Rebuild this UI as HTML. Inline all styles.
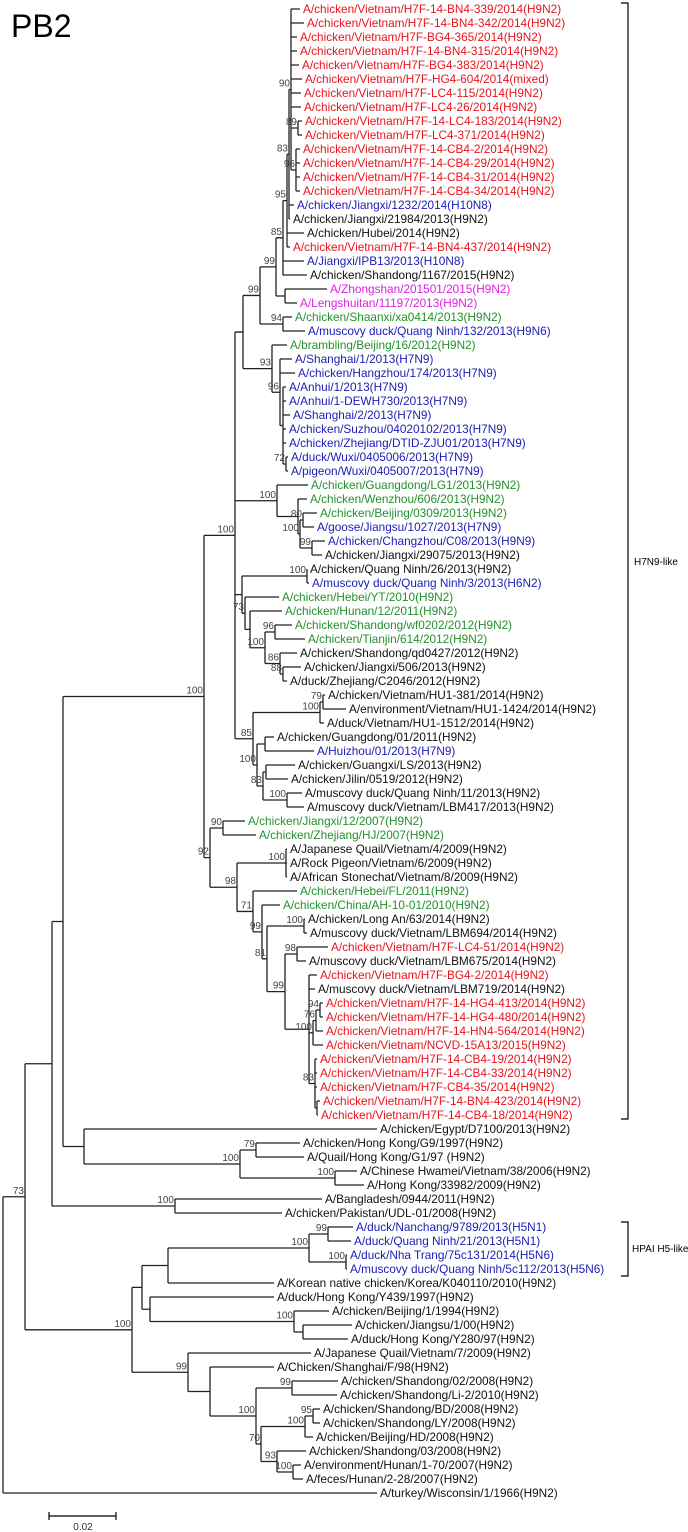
<!DOCTYPE html>
<html><head><meta charset="utf-8"><title>PB2 phylogenetic tree</title>
<style>
html,body{margin:0;padding:0;background:#fff;}
svg{display:block;font-family:"Liberation Sans",Arial,sans-serif;}
</style></head>
<body>
<svg id="tree" width="688" height="1532" viewBox="0 0 688 1532" xmlns="http://www.w3.org/2000/svg">
<text x="11" y="37" font-size="32" fill="#000">PB2</text>
<g id="branches"></g>
<g id="labels"></g>
<g id="boot"></g>
<g>
<path d="M621 3 H628 V1119 H621" fill="none" stroke="#000" stroke-width="1.2"/>
<text x="634" y="565" font-size="10" fill="#000">H7N9-like</text>
</g>
<g>
<path d="M621 1222 H628 V1276 H621" fill="none" stroke="#000" stroke-width="1.2"/>
<text x="632" y="1252" font-size="10" fill="#000">HPAI H5-like</text>
</g>
<g>
<path d="M49 1512 V1520 M49 1516 H116 M116 1512 V1520" stroke="#000" stroke-width="1.2" fill="none"/>
<text x="83" y="1530" font-size="10" text-anchor="middle" fill="#333">0.02</text>
</g>
</svg>
<script>
// Taxon names (top to bottom)
var taxa = [
"A/chicken/Vietnam/H7F-14-BN4-339/2014(H9N2)","A/chicken/Vietnam/H7F-14-BN4-342/2014(H9N2)","A/chicken/Vietnam/H7F-BG4-365/2014(H9N2)","A/chicken/Vietnam/H7F-14-BN4-315/2014(H9N2)","A/chicken/Vietnam/H7F-BG4-383/2014(H9N2)","A/chicken/Vietnam/H7F-HG4-604/2014(mixed)","A/chicken/Vietnam/H7F-LC4-115/2014(H9N2)","A/chicken/Vietnam/H7F-LC4-26/2014(H9N2)","A/chicken/Vietnam/H7F-14-LC4-183/2014(H9N2)","A/chicken/Vietnam/H7F-LC4-371/2014(H9N2)",
"A/chicken/Vietnam/H7F-14-CB4-2/2014(H9N2)","A/chicken/Vietnam/H7F-14-CB4-29/2014(H9N2)","A/chicken/Vietnam/H7F-14-CB4-31/2014(H9N2)","A/chicken/Vietnam/H7F-14-CB4-34/2014(H9N2)","A/chicken/Jiangxi/1232/2014(H10N8)","A/chicken/Jiangxi/21984/2013(H9N2)","A/chicken/Hubei/2014(H9N2)","A/chicken/Vietnam/H7F-14-BN4-437/2014(H9N2)","A/Jiangxi/IPB13/2013(H10N8)","A/chicken/Shandong/1167/2015(H9N2)",
"A/Zhongshan/201501/2015(H9N2)","A/Lengshuitan/11197/2013(H9N2)","A/chicken/Shaanxi/xa0414/2013(H9N2)","A/muscovy duck/Quang Ninh/132/2013(H9N6)","A/brambling/Beijing/16/2012(H9N2)","A/Shanghai/1/2013(H7N9)","A/chicken/Hangzhou/174/2013(H7N9)","A/Anhui/1/2013(H7N9)","A/Anhui/1-DEWH730/2013(H7N9)","A/Shanghai/2/2013(H7N9)",
"A/chicken/Suzhou/04020102/2013(H7N9)","A/chicken/Zhejiang/DTID-ZJU01/2013(H7N9)","A/duck/Wuxi/0405006/2013(H7N9)","A/pigeon/Wuxi/0405007/2013(H7N9)","A/chicken/Guangdong/LG1/2013(H9N2)","A/chicken/Wenzhou/606/2013(H9N2)","A/chicken/Beijing/0309/2013(H9N2)","A/goose/Jiangsu/1027/2013(H7N9)","A/chicken/Changzhou/C08/2013(H9N9)","A/chicken/Jiangxi/29075/2013(H9N2)",
"A/chicken/Quang Ninh/26/2013(H9N2)","A/muscovy duck/Quang Ninh/3/2013(H6N2)","A/chicken/Hebei/YT/2010(H9N2)","A/chicken/Hunan/12/2011(H9N2)","A/chicken/Shandong/wf0202/2012(H9N2)","A/chicken/Tianjin/614/2012(H9N2)","A/chicken/Shandong/qd0427/2012(H9N2)","A/chicken/Jiangxi/506/2013(H9N2)","A/duck/Zhejiang/C2046/2012(H9N2)","A/chicken/Vietnam/HU1-381/2014(H9N2)",
"A/environment/Vietnam/HU1-1424/2014(H9N2)","A/duck/Vietnam/HU1-1512/2014(H9N2)","A/chicken/Guangdong/01/2011(H9N2)","A/Huizhou/01/2013(H7N9)","A/chicken/Guangxi/LS/2013(H9N2)","A/chicken/Jilin/0519/2012(H9N2)","A/muscovy duck/Quang Ninh/11/2013(H9N2)","A/muscovy duck/Vietnam/LBM417/2013(H9N2)","A/chicken/Jiangxi/12/2007(H9N2)","A/chicken/Zhejiang/HJ/2007(H9N2)",
"A/Japanese Quail/Vietnam/4/2009(H9N2)","A/Rock Pigeon/Vietnam/6/2009(H9N2)","A/African Stonechat/Vietnam/8/2009(H9N2)","A/chicken/Hebei/FL/2011(H9N2)","A/chicken/China/AH-10-01/2010(H9N2)","A/chicken/Long An/63/2014(H9N2)","A/muscovy duck/Vietnam/LBM694/2014(H9N2)","A/chicken/Vietnam/H7F-LC4-51/2014(H9N2)","A/muscovy duck/Vietnam/LBM675/2014(H9N2)","A/chicken/Vietnam/H7F-BG4-2/2014(H9N2)",
"A/muscovy duck/Vietnam/LBM719/2014(H9N2)","A/chicken/Vietnam/H7F-14-HG4-413/2014(H9N2)","A/chicken/Vietnam/H7F-14-HG4-480/2014(H9N2)","A/chicken/Vietnam/H7F-14-HN4-564/2014(H9N2)","A/chicken/Vietnam/NCVD-15A13/2015(H9N2)","A/chicken/Vietnam/H7F-14-CB4-19/2014(H9N2)","A/chicken/Vietnam/H7F-14-CB4-33/2014(H9N2)","A/chicken/Vietnam/H7F-CB4-35/2014(H9N2)","A/chicken/Vietnam/H7F-14-BN4-423/2014(H9N2)","A/chicken/Vietnam/H7F-14-CB4-18/2014(H9N2)",
"A/chicken/Egypt/D7100/2013(H9N2)","A/chicken/Hong Kong/G9/1997(H9N2)","A/Quail/Hong Kong/G1/97 (H9N2)","A/Chinese Hwamei/Vietnam/38/2006(H9N2)","A/Hong Kong/33982/2009(H9N2)","A/Bangladesh/0944/2011(H9N2)","A/chicken/Pakistan/UDL-01/2008(H9N2)","A/duck/Nanchang/9789/2013(H5N1)","A/duck/Quang Ninh/21/2013(H5N1)","A/duck/Nha Trang/75c131/2014(H5N6)",
"A/muscovy duck/Quang Ninh/5c112/2013(H5N6)","A/Korean native chicken/Korea/K040110/2010(H9N2)","A/duck/Hong Kong/Y439/1997(H9N2)","A/chicken/Beijing/1/1994(H9N2)","A/chicken/Jiangsu/1/00(H9N2)","A/duck/Hong Kong/Y280/97(H9N2)","A/Japanese Quail/Vietnam/7/2009(H9N2)","A/Chicken/Shanghai/F/98(H9N2)","A/chicken/Shandong/02/2008(H9N2)","A/chicken/Shandong/Li-2/2010(H9N2)",
"A/chicken/Shandong/BD/2008(H9N2)","A/chicken/Shandong/LY/2008(H9N2)","A/chicken/Beijing/HD/2008(H9N2)","A/chicken/Shandong/03/2008(H9N2)","A/environment/Hunan/1-70/2007(H9N2)","A/feces/Hunan/2-28/2007(H9N2)","A/turkey/Wisconsin/1/1966(H9N2)"
];
// Colour group per taxon: r=red, b=blue, g=green, m=magenta, k=black
var groups = "rrrrrrrrrrrrrrbkkrbkmmgbgbbbbbbbbbgggbbkkbggggkkkkkkkbkkkkggkkkggkkrkrkrrrrrrrrrkkkkkkkbbbbkkkkkkkkkkkkkkkkk".split("");
// Root-to-tip distance of each taxon (tree units)
var tipDepth = [297,301,294,294,296,299,298,298,299,299,297,297,297,297,291,287,301,287,301,304,
324,294,289,302,284,289,292,283,283,287,283,283,285,285,305,304,314,311,322,319,
304,306,276,279,289,302,294,298,284,322,343,321,271,311,292,285,299,301,242,253,
284,284,284,294,277,302,304,325,303,314,312,320,320,320,320,314,314,314,317,315,
374,297,301,354,361,319,279,350,348,344,344,271,271,326,349,345,308,271,335,334,
317,317,310,303,298,300,374];
var COLORS = {r:"#e8141c", b:"#1c1cb4", g:"#24902c", m:"#e020e0", k:"#111"};
var ORIGIN_X = 3, PX_PER_UNIT = 1, ROW0 = 9, ROW_H = 14;
function xScale(d){ return ORIGIN_X + d * PX_PER_UNIT; }
function yScale(i){ return ROW0 + ROW_H * i; }

// Tree topology: N(depth, bootstrap, children); numbers are 1-based taxon indices
function N(d, b, c){ return {d:d, b:b, c:c}; }
var redA = N(288,'90',[1,2,3,4,5,6,7,8,N(295,'89',[9,10]),N(293,'96',[11,12,13,14])]);
var N83 = N(286,'83',[redA,15,16]);
var N95 = N(284,'95',[N83,17,18]);
var N85 = N(280,'85',[N95,19,20]);
var R = N(273,'99',[N85, N(282,'',[21,22])]);
var P = N(257,'99',[R, N(280,'94',[23,24])]);
var Q = N(269,'93',[25, N(277,'96',[26,27,N(280,'',[28,29,30,31,32,N(283,'72',[33,34])])])]);
var G1 = N(240,'',[P,Q]);
var LG1 = N(274,'100',[35, N(295,'',[36, N(297,'100',[N(300,'80',[37,38]), N(309,'99',[39,40])])])]);
var U3 = N(239,'',[N(304,'100',[41,42]), N(242,'73',[43, N(247,'',[44, N(262,'100',[N(272,'96',[45,46]), N(277,'86',[47, N(280,'88',[48,49])])])])])]);
var W = N(250,'85',[N(317,'100',[N(320,'79',[50,51]),52]), N(254,'100',[N(262,'',[53,54]), N(260,'83',[N(263,'',[55,56]), N(284,'100',[57,58])])])]);
var U = N(232,'100',[G1, LG1, U3, W]);
var redB = N(306,'',[70,71,N(310,'100',[N(313,'76',[N(317,'94',[72,73]),74]),75]), N(312,'83',[76,77,78,N(314,'',[79,80])])]);
var N92 = N(207,'92',[N(220,'90',[59,60]), N(234,'98',[N(283,'100',[61,62,63]), N(250,'71',[64, N(259,'99',[65, N(264,'81',[N(301,'100',[66,67]), N(282,'99',[N(294,'98',[68,69]), redB])])])])])]);
var F = N(201,'100',[U, N92]);
var G = N(81,'',[81, N(237,'100',[N(253,'79',[82,83]), N(332,'100',[84,85])])]);
var E = N(60,'',[F, G]);
var B = N(49,'',[E, N(172,'100',[86,87])]);
var C = N(129,'100',[N(139,'',[N(165,'',[N(306,'100',[N(325,'99',[88,89]), N(343,'100',[90,91])]), 92]), N(147,'',[93, N(291,'100',[94, N(300,'',[95,96])])])]), N(185,'99',[97, N(207,'',[98, N(253,'100',[N(289,'99',[99,100]), N(258,'70',[N(302,'100',[N(310,'95',[101,102]),103]), N(274,'93',[104, N(290,'100',[105,106])])])])])])]);
var A = N(22,'73',[B, C]);
var ROOT = N(0,'',[A, 107]);

var NS = "http://www.w3.org/2000/svg";
var gB = document.getElementById('branches'), gL = document.getElementById('labels'), gS = document.getElementById('boot');
var pathD = "";
function layout(n){
  if (typeof n === 'number') return {x:xScale(tipDepth[n-1]), y:yScale(n-1)};
  var pts = n.c.map(layout);
  var x = xScale(n.d), y0 = pts[0].y, y1 = pts[pts.length-1].y, y = (y0+y1)/2;
  pathD += "M"+x+" "+y0+"V"+y1;
  pts.forEach(function(p){ pathD += "M"+x+" "+p.y+"H"+p.x; });
  if (n.b) {
    var t = document.createElementNS(NS,'text');
    t.setAttribute('x', x-1); t.setAttribute('y', y-3);
    t.setAttribute('font-size','10'); t.setAttribute('fill','#444'); t.setAttribute('text-anchor','end');
    
    
    t.textContent = n.b; gS.appendChild(t);
  }
  return {x:x, y:y};
}
layout(ROOT);
var p = document.createElementNS(NS,'path');
p.setAttribute('d', pathD); p.setAttribute('stroke','#222'); p.setAttribute('stroke-width','1.3'); p.setAttribute('fill','none');


gB.appendChild(p);
taxa.forEach(function(name, i){
  var t = document.createElementNS(NS,'text');
  t.setAttribute('x', xScale(tipDepth[i]) + 3);
  t.setAttribute('y', yScale(i) + 4);
  t.setAttribute('font-size','11.8');
  t.setAttribute('fill', COLORS[groups[i]]);
  
  
  t.textContent = name; gL.appendChild(t);
});
</script>
</body></html>
